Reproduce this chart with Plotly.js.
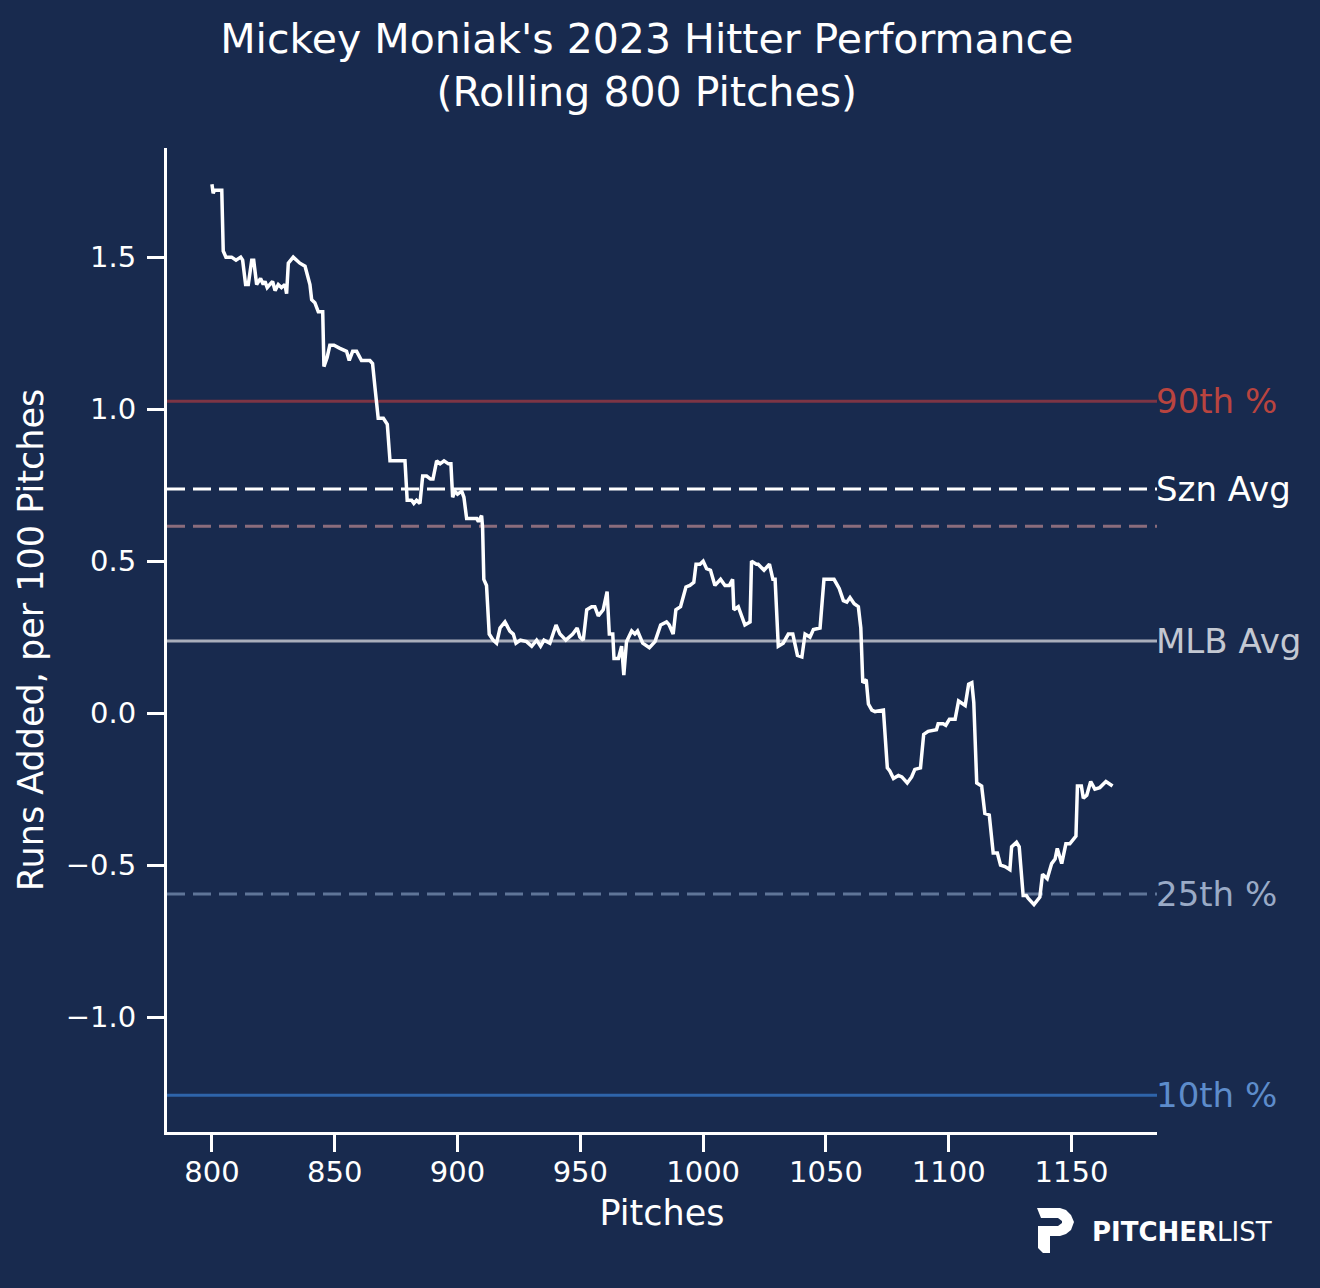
<!DOCTYPE html>
<html>
<head>
<meta charset="utf-8">
<script src="https://cdn.plot.ly/plotly-3.0.1.min.js"></script>
<style>html,body{margin:0;padding:0;background:#182a4e;}</style>
</head>
<body>
<div id="chart" style="width:1320px;height:1288px;"></div>
<script>
// Rolling 800-pitch runs added per 100 pitches
const pitches = [800,800.5,801,804,804.6,805.7,808,809.8,811.7,812.5,813.7,814.8,816.2,817,818.2,819.8,820.9,821.6,822.5,824.7,825.7,827,828.3,829.7,830.4,831.1,833.1,835.8,837.9,839.9,840.6,841.9,843.3,845.1,845.6,846.9,848,849.7,852.1,854.8,855.9,857.3,858.9,860.9,864.3,865.4,866.4,867.7,869.8,871.4,872.5,874.5,876.3,878.6,879.5,881.3,882.2,883.3,884.7,885.8,887.4,889,890,891.5,892.9,894.5,896.3,897.3,898,898.9,900,901.7,902.6,903.7,906,907.8,908.5,909.8,910.2,910.7,911.8,912.9,914.5,915.9,917.3,919.3,921.3,922.7,923.8,925.6,928.1,930.2,932.2,933.8,935.2,937.6,940.1,941.7,944.1,946.9,948.7,949.8,951.2,952.6,954.6,955.9,957.3,959.3,960.9,961.8,963.2,963.7,965.5,966.8,967.7,968.8,970.9,972.2,973.3,975.4,978.1,980.4,982.7,985.1,986.2,987.8,988.9,990.8,993,994.6,996.2,997.1,998.7,1000,1001.4,1003,1004.8,1007.1,1008.9,1010.7,1012,1012.5,1014.3,1017,1019.1,1019.7,1021.7,1022.4,1024.8,1027,1028.4,1029.3,1030.6,1032.6,1034.7,1036.5,1038.4,1040.2,1041.5,1043.5,1044.9,1047.6,1049.2,1051,1053.3,1055.4,1057.1,1058.5,1059.8,1061.5,1063.2,1064.2,1065,1066.4,1067.3,1068.7,1070,1073.4,1075,1076,1077.5,1079.5,1080.9,1083.1,1084.9,1086.2,1088.5,1089.8,1091.6,1095,1095.7,1097.7,1098.8,1100.3,1102.6,1104,1106.7,1108.1,1109.4,1110.2,1111.4,1113.4,1114.7,1116.5,1118.1,1119.8,1121.1,1122.9,1124.9,1125.6,1127.6,1128.7,1130.3,1131.6,1132.4,1134.7,1136.4,1137.1,1138.2,1140.1,1141.9,1143.3,1144.2,1146,1147.7,1149.3,1151.8,1152.4,1154,1154.8,1156.2,1157.8,1159.5,1161.5,1164,1166.7];
const runsAdded = [1.74,1.71,1.72,1.72,1.52,1.50,1.50,1.49,1.50,1.49,1.41,1.41,1.49,1.49,1.41,1.43,1.41,1.42,1.40,1.42,1.39,1.41,1.40,1.41,1.38,1.48,1.50,1.48,1.47,1.41,1.36,1.35,1.32,1.32,1.14,1.17,1.21,1.21,1.20,1.19,1.16,1.19,1.19,1.16,1.16,1.15,1.07,0.97,0.97,0.95,0.83,0.83,0.83,0.83,0.70,0.70,0.69,0.70,0.69,0.78,0.78,0.77,0.77,0.83,0.82,0.83,0.82,0.82,0.71,0.73,0.72,0.73,0.71,0.64,0.64,0.64,0.63,0.65,0.61,0.44,0.42,0.26,0.24,0.23,0.28,0.30,0.27,0.26,0.23,0.24,0.235,0.22,0.24,0.22,0.24,0.23,0.29,0.26,0.24,0.26,0.28,0.25,0.24,0.34,0.35,0.35,0.32,0.34,0.40,0.26,0.26,0.18,0.18,0.22,0.125,0.235,0.27,0.26,0.27,0.23,0.215,0.235,0.29,0.30,0.29,0.26,0.34,0.35,0.415,0.42,0.43,0.49,0.49,0.50,0.475,0.47,0.42,0.44,0.42,0.42,0.44,0.34,0.35,0.29,0.30,0.50,0.49,0.49,0.47,0.49,0.44,0.44,0.22,0.23,0.26,0.26,0.19,0.185,0.26,0.25,0.275,0.28,0.44,0.44,0.44,0.41,0.37,0.365,0.38,0.36,0.35,0.28,0.10,0.11,0.03,0.01,0.005,0.01,-0.18,-0.19,-0.215,-0.205,-0.21,-0.23,-0.21,-0.185,-0.18,-0.07,-0.06,-0.055,-0.035,-0.035,-0.04,-0.02,-0.02,0.04,0.025,0.095,0.10,0.035,-0.23,-0.24,-0.33,-0.335,-0.46,-0.46,-0.50,-0.505,-0.515,-0.44,-0.425,-0.44,-0.60,-0.60,-0.61,-0.63,-0.61,-0.605,-0.53,-0.545,-0.495,-0.48,-0.445,-0.495,-0.43,-0.43,-0.405,-0.24,-0.24,-0.28,-0.27,-0.225,-0.25,-0.245,-0.225,-0.24];

// Reference lines
const refLabels = ["90th %", "Szn Avg", "", "MLB Avg", "25th %", "10th %"];
const refValues = [1.026, 0.737, 0.615, 0.237, -0.595, -1.257];
const refLineColors = ["#7d3545", "#ffffff", "#8a6c7c", "#a9aebb", "#5f7598", "#2e64aa"];
const refTextColors = ["#b9443f", "#ffffff", "#8a6c7c", "#c3c8d2", "#9aaac6", "#5d8ccb"];
const refDash = ["solid", "18px,8px", "18px,8px", "solid", "18px,8px", "solid"];

const xTicks = [800, 850, 900, 950, 1000, 1050, 1100, 1150];
const yTicks = [-1.0, -0.5, 0.0, 0.5, 1.0, 1.5];

const W = 1320, H = 1288, L = 167, R = 163, T = 148, B = 156;
const pw = W - L - R, ph = H - T - B;
const px2x = p => (p - L) / pw;
const px2y = p => (H - B - p) / ph;

const shapes = refValues.map((v, i) => ({
  type: "line", xref: "paper", yref: "y", x0: 0, x1: 1, y0: v, y1: v,
  line: { color: refLineColors[i], width: 3, dash: refDash[i] }, layer: "below"
}));

// Logo "P" mark as a path in page pixels converted to paper coords
function pathFrom(cmds) {
  return cmds.map(c => c[0] + (c.length > 1 ? " " + px2x(c[1]) + "," + px2y(c[2]) : "")).join(" ");
}
const logoPath = pathFrom([
  ["M",1037,1208],["L",1060,1208],["L",1066,1210],["L",1071,1215],["L",1074,1222],["L",1071,1230],["L",1066,1234],["L",1060,1236],["L",1050,1236],["L",1050,1253],["L",1043,1253],["L",1038,1248],["L",1038,1226],["L",1049,1226],["L",1058,1226],["L",1062,1223],["L",1062,1221],["L",1058,1218],["L",1041,1218],["Z"]
]);
shapes.push({ type: "path", xref: "paper", yref: "paper", path: logoPath, fillcolor: "#ffffff", line: { width: 0 } });

const annotations = refLabels.map((t, i) => ({
  text: t, xref: "paper", yref: "y", x: 1, y: refValues[i], xanchor: "left", yanchor: "middle",
  xshift: -3, showarrow: false, font: { family: "DejaVu Sans", size: 34, color: refTextColors[i] }
})).filter(a => a.text);
annotations.push({
  text: "<b>PITCHER</b>LIST", xref: "paper", yref: "paper", x: px2x(1090), y: px2y(1232),
  xanchor: "left", yanchor: "middle", showarrow: false,
  font: { family: "DejaVu Sans", size: 26, color: "#ffffff" }
});

const trace = {
  x: pitches, y: runsAdded, type: "scatter", mode: "lines",
  line: { color: "#ffffff", width: 3.5 }, hoverinfo: "skip"
};

const layout = {
  width: W, height: H,
  margin: { l: L, r: R, t: T, b: B },
  paper_bgcolor: "#182a4e", plot_bgcolor: "#182a4e",
  showlegend: false,
  font: { family: "DejaVu Sans", color: "#ffffff" },
  title: {
    text: "Mickey Moniak's 2023 Hitter Performance<br>(Rolling 800 Pitches)",
    font: { family: "DejaVu Sans", size: 41, color: "#ffffff" },
    x: 0.49, xanchor: "center", y: 0.959, yanchor: "top"
  },
  xaxis: {
    range: [781.7, 1184.8], tickvals: xTicks, ticktext: xTicks.map(String),
    showgrid: false, zeroline: false, showline: true, linecolor: "#ffffff", linewidth: 3,
    ticks: "outside", ticklen: 17, tickwidth: 3, tickcolor: "#ffffff",
    tickfont: { family: "DejaVu Sans", size: 29, color: "#ffffff" },
    ticklabelstandoff: -5,
    title: { text: "Pitches", font: { family: "DejaVu Sans", size: 35, color: "#ffffff" }, standoff: 13 },
    automargin: false
  },
  yaxis: {
    range: [-1.378, 1.859], tickvals: yTicks, ticktext: yTicks.map(v => (v < 0 ? "\u2212" : "") + Math.abs(v).toFixed(1)),
    showgrid: false, zeroline: false, showline: true, linecolor: "#ffffff", linewidth: 3,
    ticks: "outside", ticklen: 17, tickwidth: 3, tickcolor: "#ffffff",
    tickfont: { family: "DejaVu Sans", size: 29, color: "#ffffff" },
    ticklabelstandoff: 5,
    title: { text: "Runs Added, per 100 Pitches", font: { family: "DejaVu Sans", size: 35, color: "#ffffff" }, standoff: 12 },
    automargin: false
  },
  shapes: shapes,
  annotations: annotations
};

Plotly.newPlot("chart", [trace], layout, { displayModeBar: false, staticPlot: true });
</script>
</body>
</html>
